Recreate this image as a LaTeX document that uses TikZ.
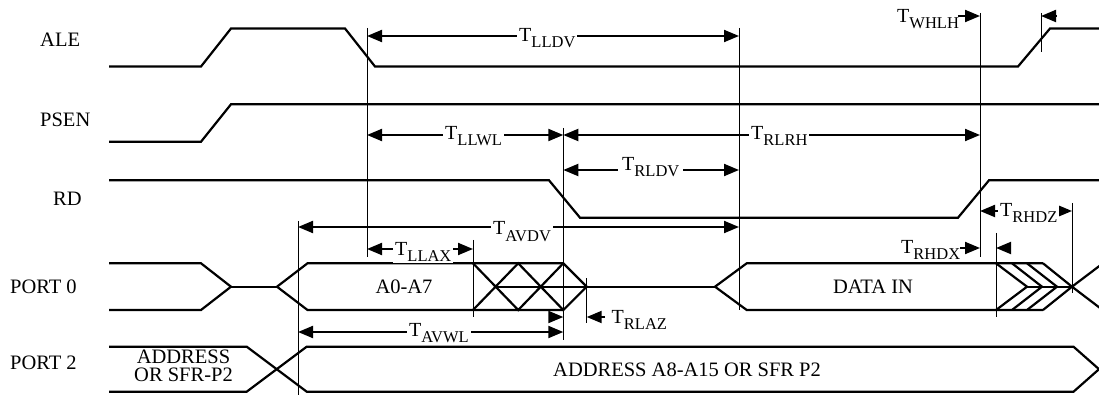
\documentclass[tikz,border=0pt]{standalone}
\usepackage{fontspec}
\setmainfont{Liberation Serif}
\usetikzlibrary{arrows.meta}
\newcommand\Tsub[1]{T\raisebox{-6pt}{\fontsize{16.5}{16.5}\selectfont #1}}
\begin{document}
\begin{tikzpicture}[x=1pt,y=-1pt,
  sig/.style={line width=2.2pt, line join=miter},
  refline/.style={line width=1pt},
  dim/.style={line width=2pt},
  arr/.style={-{Triangle[length=15pt,width=12pt]}},
  darr/.style={{Triangle[length=15pt,width=12pt]}-{Triangle[length=15pt,width=12pt]}},
  lab/.style={font=\fontsize{20.5}{20.5}\selectfont, inner sep=0pt},
  tl/.style={anchor=base west, inner xsep=2pt, inner ysep=1pt, fill=white, font=\fontsize{20}{20}\selectfont}]
\useasboundingbox (0,0) rectangle (1099,395);
% signal names
\node[lab, anchor=base west] (nALE) at (40,46.8) {ALE};
\node[lab, anchor=base west] (nPSEN) at (40,126.8) {PSEN};
\node[lab, anchor=base west] (nRD) at (53,206) {RD};
\node[lab, anchor=base west] (nP0) at (10,293.5) {PORT 0};
\node[lab, anchor=base west] (nP2) at (10,369.5) {PORT 2};
% ALE
\draw[sig] (109,66.5) -- (201,66.5) -- (231,28.5) -- (345,28.5) -- (375,66.5) -- (1018,66.5) -- (1050,28.5) -- (1100,28.5);
% PSEN
\draw[sig] (109,141.7) -- (201,141.7) -- (231,104.3) -- (1100,104.3);
% RD
\draw[sig] (109,180.3) -- (549,180.3) -- (580,217.7) -- (958,217.7) -- (989,180.3) -- (1100,180.3);
% PORT 0
\draw[sig] (109,263.3) -- (201,263.3) -- (231,286.7) -- (201,310) -- (109,310);
\draw[sig] (231,286.7) -- (277,286.7);
\draw[sig] (563.3,263.3) -- (307.5,263.3) -- (277,286.7) -- (307.5,310) -- (563.3,310);
\draw[sig] (473,263.3) -- (518.2,310) -- (563.3,263.3) -- (586.7,286.7) -- (563.3,310) -- (518.2,263.3) -- (473,310);
\draw[sig] (495.6,286.7) -- (715,286.7);
\draw[sig] (1043,263.3) -- (746.7,263.3) -- (715,286.7) -- (746.7,310) -- (1043,310);
\draw[sig] (996,263.3) -- (1027,286.7) -- (996,310);
\draw[sig] (1012,263.3) -- (1042,286.7) -- (1012,310);
\draw[sig] (1027,263.3) -- (1057,286.7) -- (1027,310);
\draw[sig] (1043,263.3) -- (1072,286.7) -- (1043,310);
\draw[sig] (1027,286.7) -- (1072,286.7);
\draw[sig] (1100,265.5) -- (1072,286.7) -- (1100,308);
% PORT 2
\draw[sig] (109,346.7) -- (246.7,346.7) -- (306.7,391.7) -- (1073.5,391.7) -- (1099,369.2);
\draw[sig] (109,391.7) -- (246.7,391.7) -- (306.7,346.7) -- (1073.5,346.7) -- (1099,369.2);
% data labels
\node[lab, anchor=base] (nA0) at (404,293.5) {A0-A7};
\node[lab, anchor=base] (nDI) at (873,293.5) {DATA IN};
\node[lab, anchor=base west] (nA8) at (553,376.8) {ADDRESS A8-A15 OR SFR P2};
\node[lab, align=center, font=\fontsize{20.5}{18.3}\selectfont, anchor=center] (nAd) at (183.5,365.9) {ADDRESS\\OR SFR-P2};
% reference lines
\draw[refline] (298,221) -- (298,395);
\draw[refline] (367,28) -- (367,257);
\draw[refline] (473,240) -- (473,317);
\draw[refline] (563.3,128) -- (563.3,340);
\draw[refline] (586.7,278) -- (586.7,323);
\draw[refline] (739,28) -- (739,310);
\draw[refline] (980,13) -- (980,257);
\draw[refline] (996,233) -- (996,317);
\draw[refline] (1072,203) -- (1072,293);
\draw[refline] (1041,13) -- (1041,52);
% timing arrows
\draw[dim,darr] (367,36) -- (739,36);
\node[tl] (tLLDV) at (517,41.5) {\Tsub{LLDV}};
\node[tl] (tWHLH) at (895,23) {\Tsub{WHLH}};
\draw[dim,arr] (958,16) -- (980,16);
\draw[dim,arr] (1056,16) -- (1041,16);
\draw[dim,darr] (367,135) -- (563.3,135);
\node[tl] (tLLWL) at (443,140) {\Tsub{LLWL}};
\draw[dim,darr] (563.3,135) -- (980,135);
\node[tl] (tRLRH) at (749,140) {\Tsub{RLRH}};
\draw[dim,darr] (563.3,170) -- (739,170);
\node[tl, inner xsep=4pt] (tRLDV) at (618,171) {\Tsub{RLDV}};
\draw[dim,darr] (298,227) -- (739,227);
\node[tl] (tAVDV) at (491,235) {\Tsub{AVDV}};
\draw[dim,darr] (367,249) -- (473,249);
\node[tl] (tLLAX) at (393,255.5) {\Tsub{LLAX}};
\draw[dim,darr] (298,332) -- (563.3,332);
\node[tl] (tAVWL) at (407,336.5) {\Tsub{AVWL}};
\draw[dim,arr] (549,317) -- (563.3,317);
\draw[dim,arr] (605,317) -- (586.7,317);
\node[tl, fill=none] (tRLAZ) at (609.5,323) {\Tsub{RLAZ}};
\draw[dim,darr] (980,211) -- (1072,211);
\node[tl] (tRHDZ) at (998,217) {\Tsub{RHDZ}};
\node[tl] (tRHDX) at (899,253) {\Tsub{RHDX}};
\draw[dim,arr] (960,248) -- (980,248);
\draw[dim,arr] (1010,248) -- (996,248);
\end{tikzpicture}
\end{document}
